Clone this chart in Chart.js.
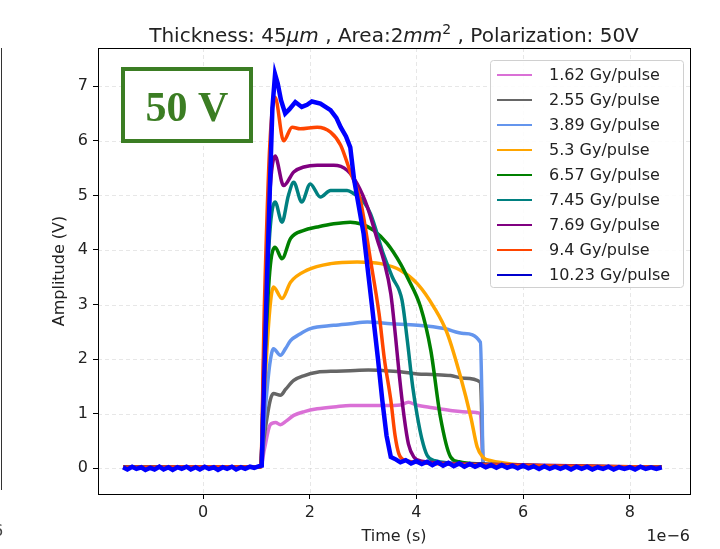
<!DOCTYPE html>
<html>
<head>
<meta charset="utf-8">
<script src="https://cdn.jsdelivr.net/npm/chart.js@4.4.1/dist/chart.umd.min.js"></script>
<style>
html,body{margin:0;padding:0;background:#fff;}
#wrap{width:720px;height:549px;position:relative;}
</style>
</head>
<body>
<div id="wrap"><canvas id="c" width="720" height="549"></canvas></div>
<script>
// ---- data (time in microseconds, amplitude in V) ----
const seriesLabels = ['1.62 Gy/pulse','2.55 Gy/pulse','3.89 Gy/pulse','5.3 Gy/pulse','6.57 Gy/pulse','7.45 Gy/pulse','7.69 Gy/pulse','9.4 Gy/pulse','10.23 Gy/pulse'];
const xTicks = [0, 2, 4, 6, 8];
const yTicks = [0, 1, 2, 3, 4, 5, 6, 7];

const t162 = [-1.5, 1.08, 1.15, 1.26, 1.36, 1.45, 1.55, 1.70, 1.90, 2.14, 2.50, 2.76, 3.10, 3.39, 3.70, 3.85, 4.00, 4.30, 4.64, 5.00, 5.20, 5.23, 5.25, 5.50, 6.00, 8.60];
const v162 = [0.02, 0.03, 0.35, 0.80, 0.84, 0.80, 0.86, 0.97, 1.04, 1.09, 1.13, 1.15, 1.15, 1.15, 1.16, 1.21, 1.16, 1.11, 1.06, 1.03, 1.00, 0.50, 0.05, 0.04, 0.03, 0.02];

const t255 = [-1.5, 1.08, 1.15, 1.26, 1.32, 1.45, 1.55, 1.70, 1.90, 2.14, 2.50, 2.76, 3.10, 3.39, 3.70, 4.02, 4.30, 4.64, 4.90, 5.20, 5.23, 5.25, 6.00, 8.60];
const v255 = [0.02, 0.03, 0.60, 1.25, 1.37, 1.34, 1.45, 1.61, 1.70, 1.76, 1.78, 1.79, 1.80, 1.79, 1.77, 1.73, 1.72, 1.70, 1.65, 1.58, 0.80, 0.05, 0.03, 0.02];

const t389 = [-1.5, 1.08, 1.15, 1.25, 1.32, 1.45, 1.55, 1.64, 1.80, 2.01, 2.45, 2.76, 3.08, 3.52, 4.02, 4.52, 4.89, 5.20, 5.23, 5.25, 6.00, 8.60];
const v389 = [0.02, 0.03, 0.90, 1.90, 2.19, 2.07, 2.20, 2.34, 2.45, 2.56, 2.62, 2.65, 2.68, 2.65, 2.62, 2.56, 2.47, 2.31, 1.20, 0.05, 0.03, 0.02];

const t530 = [-1.5, 1.08, 1.15, 1.25, 1.32, 1.48, 1.64, 1.95, 2.39, 2.89, 3.33, 3.70, 4.02, 4.33, 4.58, 4.83, 5.02, 5.14, 5.25, 5.40, 5.64, 6.00, 8.60];
const v530 = [0.02, 0.03, 1.40, 2.90, 3.32, 3.11, 3.41, 3.63, 3.75, 3.78, 3.75, 3.63, 3.38, 2.95, 2.47, 1.67, 0.94, 0.39, 0.20, 0.14, 0.10, 0.06, 0.02];

const t657 = [-1.5, 1.08, 1.15, 1.25, 1.35, 1.48, 1.64, 1.89, 2.14, 2.45, 2.76, 2.95, 3.20, 3.45, 3.70, 3.83, 4.08, 4.27, 4.45, 4.64, 4.80, 5.20, 8.60];
const v657 = [0.02, 0.03, 1.80, 3.60, 4.05, 3.84, 4.21, 4.36, 4.42, 4.48, 4.51, 4.48, 4.36, 4.12, 3.75, 3.50, 2.95, 2.16, 0.94, 0.21, 0.12, 0.08, 0.02];

const t745 = [-1.5, 1.08, 1.15, 1.25, 1.35, 1.48, 1.60, 1.70, 1.85, 2.01, 2.20, 2.39, 2.70, 2.83, 3.00, 3.14, 3.39, 3.55, 3.73, 3.83, 3.93, 4.02, 4.10, 4.20, 4.35, 5.00, 8.60];
const v745 = [0.02, 0.03, 2.20, 4.30, 4.88, 4.51, 5.00, 5.24, 4.88, 5.21, 4.97, 5.09, 5.09, 5.03, 4.90, 4.66, 3.90, 3.50, 3.08, 2.34, 1.50, 0.94, 0.55, 0.24, 0.14, 0.08, 0.02];

const t769 = [-1.5, 1.08, 1.15, 1.25, 1.35, 1.51, 1.70, 1.89, 2.14, 2.45, 2.70, 2.89, 3.08, 3.27, 3.39, 3.52, 3.61, 3.68, 3.77, 3.85, 3.95, 4.10, 5.00, 8.60];
const v769 = [0.02, 0.03, 2.50, 5.00, 5.72, 5.18, 5.43, 5.52, 5.55, 5.55, 5.46, 5.21, 4.79, 4.18, 3.80, 3.20, 2.40, 1.70, 0.94, 0.45, 0.21, 0.13, 0.08, 0.02];

const t940 = [-1.5, 1.08, 1.15, 1.25, 1.35, 1.51, 1.67, 1.82, 2.14, 2.39, 2.58, 2.76, 2.95, 3.14, 3.30, 3.40, 3.52, 3.60, 3.67, 3.78, 4.50, 8.60];
const v940 = [0.02, 0.03, 3.00, 5.90, 6.80, 6.00, 6.25, 6.22, 6.25, 6.16, 5.92, 5.43, 4.91, 3.81, 2.83, 2.00, 1.25, 0.60, 0.27, 0.15, 0.08, 0.02];

const t1023 = [-1.5, -1.42, -1.33, -1.25, -1.16, -1.08, -0.99, -0.91, -0.82, -0.74, -0.65, -0.57, -0.48, -0.40, -0.31, -0.23, -0.14, -0.06, 0.03, 0.11, 0.20, 0.28, 0.37, 0.45, 0.54, 0.62, 0.71, 0.79, 0.88, 0.96, 1.05,
  1.10, 1.20, 1.30, 1.35, 1.40, 1.46, 1.54, 1.62, 1.73, 1.85, 1.95, 2.04, 2.20, 2.39, 2.50, 2.58, 2.68, 2.76, 2.83, 3.01, 3.17, 3.28, 3.36, 3.44, 3.52,
  3.62, 3.70, 3.80, 3.90, 4.00, 4.10, 4.20, 4.30, 4.40, 4.50, 4.60, 4.70, 4.80, 4.90, 5.00, 5.10, 5.20, 5.30, 5.40, 5.50, 5.60, 5.70, 5.80, 5.90, 6.00,
  6.10, 6.20, 6.30, 6.40, 6.50, 6.60, 6.70, 6.80, 6.90, 7.00, 7.10, 7.20, 7.30, 7.40, 7.50, 7.60, 7.70, 7.80, 7.90, 8.00, 8.10, 8.20, 8.30, 8.40, 8.50, 8.60];
const v1023 = [0.02, -0.02, 0.03, -0.01, 0.02, -0.03, 0.01, -0.02, 0.03, -0.02, 0.02, -0.03, 0.02, -0.01, 0.03, -0.02, 0.02, -0.02, 0.03, -0.01, 0.02, -0.03, 0.02, -0.01, 0.03, -0.02, 0.02, -0.01, 0.03, 0.01, 0.04,
  0.05, 3.50, 6.60, 7.22, 7.05, 6.75, 6.50, 6.58, 6.71, 6.62, 6.66, 6.72, 6.68, 6.56, 6.42, 6.25, 6.08, 5.88, 5.30, 4.30, 2.95, 2.00, 1.25, 0.60, 0.21,
  0.16, 0.11, 0.15, 0.09, 0.13, 0.08, 0.12, 0.06, 0.11, 0.05, 0.10, 0.04, 0.09, 0.03, 0.08, 0.03, 0.07, 0.02, 0.06, 0.01, 0.06, 0.01, 0.05, 0.00, 0.05,
  0.00, 0.04, -0.01, 0.04, -0.01, 0.03, -0.01, 0.03, -0.02, 0.03, -0.01, 0.03, -0.02, 0.02, -0.01, 0.03, -0.02, 0.02, -0.01, 0.02, -0.02, 0.03, -0.01, 0.02, -0.01, 0.02];

const seriesT = [t162, t255, t389, t530, t657, t745, t769, t940, t1023];
const seriesV = [v162, v255, v389, v530, v657, v745, v769, v940, v1023];
const seriesColors = ['#DA70D6', '#666666', '#6495ED', '#FFA500', '#008000', '#008080', '#800080', '#FF4500', '#0000FF'];
const legendColors = ['#DA70D6', '#666666', '#6495ED', '#FFA500', '#008000', '#008080', '#800080', '#FF4500', '#0000CD'];

const FONT = "'DejaVu Sans', sans-serif";

const datasets = seriesLabels.map((lab, i) => {
  const isBlue = i === seriesLabels.length - 1;
  const ds = {
    label: lab,
    data: seriesT[i].map((t, k) => ({x: t, y: seriesV[i][k]})),
    borderColor: seriesColors[i],
    backgroundColor: seriesColors[i],
    borderWidth: isBlue ? 4.5 : 3.5,
    pointRadius: 0,
    fill: false,
    order: seriesLabels.length - i
  };
  if (isBlue) { ds.tension = 0; } else { ds.cubicInterpolationMode = 'monotone'; }
  return ds;
});

const decor = {
  id: 'decor',
  beforeDatasetsDraw(chart) {
    const {ctx, chartArea: a, scales: {x, y}} = chart;
    ctx.save();
    ctx.strokeStyle = 'rgba(200,200,200,0.55)';
    ctx.lineWidth = 0.8;
    ctx.setLineDash([4, 3]);
    xTicks.forEach(v => { const px = Math.round(x.getPixelForValue(v)) + 0.5; ctx.beginPath(); ctx.moveTo(px, a.top); ctx.lineTo(px, a.bottom); ctx.stroke(); });
    yTicks.forEach(v => { const py = Math.round(y.getPixelForValue(v)) + 0.5; ctx.beginPath(); ctx.moveTo(a.left, py); ctx.lineTo(a.right, py); ctx.stroke(); });
    ctx.restore();
  },
  afterDatasetsDraw(chart) {
    const {ctx, chartArea: a} = chart;
    ctx.save();
    ctx.strokeStyle = '#000';
    ctx.lineWidth = 1;
    ctx.strokeRect(Math.round(a.left) + 0.5, Math.round(a.top) + 0.5, Math.round(a.right - a.left), Math.round(a.bottom - a.top));

    // "50 V" annotation box
    const bx = a.left + 25, by = a.top + 21, bw = 128, bh = 72;
    ctx.fillStyle = '#fff';
    ctx.fillRect(bx, by, bw, bh);
    ctx.strokeStyle = '#3B7D23';
    ctx.lineWidth = 4;
    ctx.strokeRect(bx, by, bw, bh);
    ctx.fillStyle = '#3B7D23';
    ctx.font = "bold 42px 'Liberation Serif', 'DejaVu Serif', serif";
    ctx.textAlign = 'center';
    ctx.textBaseline = 'alphabetic';
    ctx.fillText('50 V', bx + bw / 2, by + 52);

    // legend
    const lx = 490, ly = 60, lw = 193, lh = 227;
    ctx.fillStyle = 'rgba(255,255,255,0.85)';
    ctx.strokeStyle = '#d0d0d0';
    ctx.lineWidth = 1;
    ctx.beginPath();
    if (ctx.roundRect) ctx.roundRect(lx + 0.5, ly + 0.5, lw, lh, 3); else ctx.rect(lx + 0.5, ly + 0.5, lw, lh);
    ctx.fill();
    ctx.stroke();
    ctx.font = '16px ' + FONT;
    ctx.textAlign = 'left';
    ctx.textBaseline = 'middle';
    chart.data.datasets.forEach((ds, i) => {
      const yy = ly + 15 + i * 25;
      ctx.strokeStyle = legendColors[i];
      ctx.lineWidth = 2;
      ctx.beginPath();
      ctx.moveTo(lx + 7, yy);
      ctx.lineTo(lx + 42, yy);
      ctx.stroke();
      ctx.fillStyle = '#222';
      ctx.fillText(ds.label, lx + 59, yy + 1);
    });
    ctx.restore();
  },
  afterDraw(chart) {
    const {ctx, chartArea: a} = chart;
    ctx.save();
    ctx.fillStyle = '#222';
    ctx.font = '16px ' + FONT;
    ctx.textAlign = 'center';
    ctx.textBaseline = 'middle';
    ctx.fillText('Time (s)', (a.left + a.right) / 2, 537);
    ctx.textAlign = 'right';
    ctx.fillText('1e\u22126', a.right, 537);
    ctx.save();
    ctx.translate(60, (a.top + a.bottom) / 2);
    ctx.rotate(-Math.PI / 2);
    ctx.textAlign = 'center';
    ctx.fillText('Amplitude (V)', 0, 0);
    ctx.restore();

    // rich title
    const segs = [
      {t: 'Thickness: 45', f: '20px ' + FONT, dy: 0},
      {t: '\u03BCm', f: 'oblique 20px ' + FONT, dy: 0},
      {t: ' , Area:2', f: '20px ' + FONT, dy: 0},
      {t: 'mm', f: 'oblique 20px ' + FONT, dy: 0},
      {t: '2', f: '14px ' + FONT, dy: -8},
      {t: ' , Polarization: 50V', f: '20px ' + FONT, dy: 0}
    ];
    let total = 0;
    segs.forEach(s => { ctx.font = s.f; s.w = ctx.measureText(s.t).width; total += s.w; });
    let cx = (a.left + a.right) / 2 - total / 2;
    ctx.textAlign = 'left';
    ctx.textBaseline = 'alphabetic';
    segs.forEach(s => { ctx.font = s.f; ctx.fillText(s.t, cx, 42 + s.dy); cx += s.w; });

    // fragment of neighbouring panel at left edge
    ctx.strokeStyle = '#333';
    ctx.lineWidth = 1;
    ctx.beginPath();
    ctx.moveTo(1.5, 48);
    ctx.lineTo(1.5, 490);
    ctx.stroke();
    ctx.font = '16px ' + FONT;
    ctx.textAlign = 'left';
    ctx.fillStyle = '#444';
    ctx.fillText('6', -7, 536);
    ctx.restore();
  }
};

new Chart(document.getElementById('c'), {
  type: 'line',
  data: { datasets },
  options: {
    responsive: false,
    animation: false,
    events: [],
    layout: { padding: { top: 48, right: 30, left: 0, bottom: 0 } },
    plugins: { legend: { display: false }, title: { display: false }, tooltip: { enabled: false } },
    scales: {
      x: {
        type: 'linear',
        min: -1.97, max: 9.13,
        afterBuildTicks: s => { s.ticks = xTicks.map(v => ({value: v})); },
        afterFit: s => { s.height = 55; },
        ticks: { callback: v => String(v), color: '#222', font: { family: FONT, size: 16 }, padding: 4, maxRotation: 0, autoSkip: false },
        grid: { drawOnChartArea: false, drawTicks: true, tickLength: 5, tickColor: '#000', tickWidth: 1 },
        border: { display: true, color: '#000', width: 1 }
      },
      y: {
        type: 'linear',
        min: -0.47, max: 7.7,
        afterBuildTicks: s => { s.ticks = yTicks.map(v => ({value: v})); },
        afterFit: s => { s.width = 98; },
        ticks: { callback: v => String(v), color: '#222', font: { family: FONT, size: 16 }, padding: 5, autoSkip: false },
        grid: { drawOnChartArea: false, drawTicks: true, tickLength: 5, tickColor: '#000', tickWidth: 1 },
        border: { display: true, color: '#000', width: 1 }
      }
    }
  },
  plugins: [decor]
});
</script>
</body>
</html>
